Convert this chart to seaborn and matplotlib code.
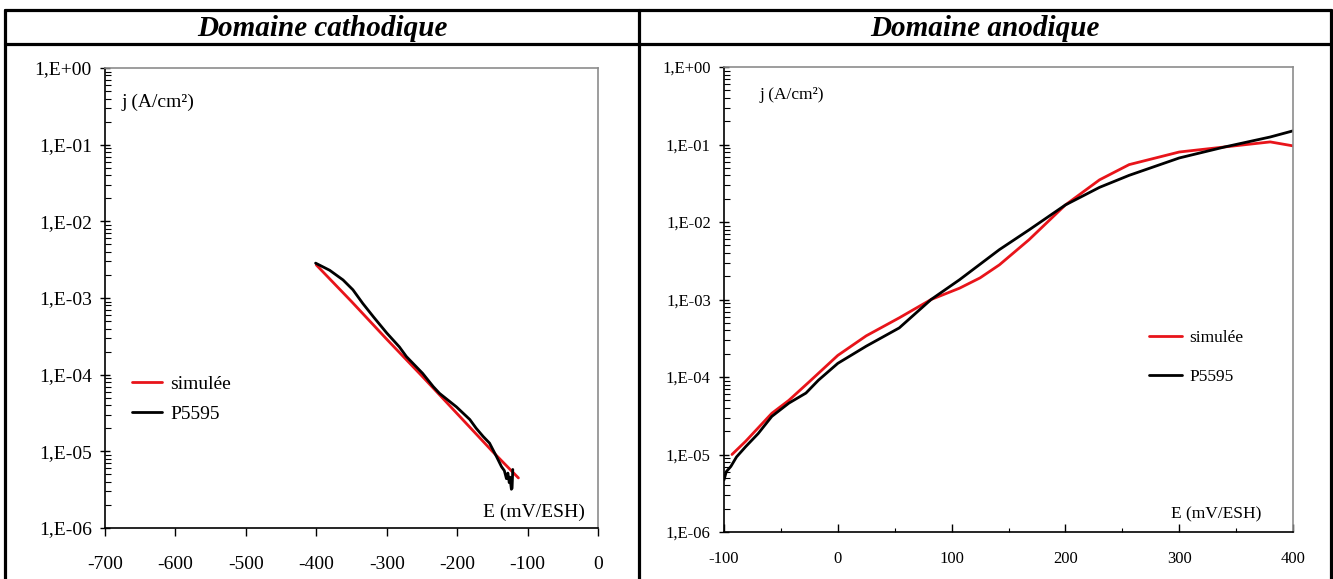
import numpy as np
import pandas as pd
import matplotlib
matplotlib.use("Agg")
import matplotlib.pyplot as plt
import seaborn as sns
from matplotlib.lines import Line2D
from matplotlib.ticker import LogLocator, FixedLocator, FixedFormatter, MultipleLocator, NullFormatter

# ---------------- data ----------------
titles = ["Domaine cathodique", "Domaine anodique"]
series_names = ["simulée", "P5595"]
ytick_values = [1e-6, 1e-5, 1e-4, 1e-3, 1e-2, 1e-1, 1e0]
ytick_labels = ["1,E-06", "1,E-05", "1,E-04", "1,E-03", "1,E-02", "1,E-01", "1,E+00"]

cath_sim_E = [-400, -350, -300, -250, -200, -150, -113]
cath_sim_j = [2.7e-3, 9.0e-4, 2.9e-4, 9.6e-5, 3.1e-5, 1.0e-5, 4.5e-6]

cath_exp_E = [-401, -381, -362, -348, -334, -319, -300, -282, -272, -249, -234, -225,
              -201, -182, -173, -163, -154, -144, -137, -133, -130, -128, -126, -125,
              -123, -122, -121]
cath_exp_j = [2.85e-3, 2.3e-3, 1.72e-3, 1.28e-3, 8.5e-4, 5.7e-4, 3.5e-4, 2.3e-4, 1.72e-4,
              1.04e-4, 7.0e-5, 5.7e-5, 3.8e-5, 2.6e-5, 2.0e-5, 1.56e-5, 1.28e-5, 8.5e-6,
              6.3e-6, 5.6e-6, 4.4e-6, 5.2e-6, 3.9e-6, 4.6e-6, 3.2e-6, 3.3e-6, 5.8e-6]

anod_sim_E = [-93, -81, -58, -43, -25, 0, 25, 54, 82, 107, 125, 142, 168, 200, 230, 256,
              300, 340, 380, 400]
anod_sim_j = [1.0e-5, 1.48e-5, 3.4e-5, 5.0e-5, 8.7e-5, 1.9e-4, 3.4e-4, 5.8e-4, 1.0e-3,
              1.4e-3, 1.9e-3, 2.8e-3, 5.9e-3, 1.66e-2, 3.5e-2, 5.5e-2, 8.0e-2, 9.3e-2,
              1.08e-1, 9.6e-2]

anod_exp_E = [-100, -98, -94, -89, -81, -70, -58, -43, -28, -17, 0, 25, 54, 82, 107, 142,
              168, 200, 230, 256, 300, 340, 380, 400]
anod_exp_j = [4.7e-6, 6.0e-6, 7.0e-6, 9.3e-6, 1.26e-5, 1.86e-5, 3.1e-5, 4.6e-5, 6.2e-5,
              9.1e-5, 1.5e-4, 2.5e-4, 4.3e-4, 1.0e-3, 1.8e-3, 4.4e-3, 7.9e-3, 1.66e-2,
              2.8e-2, 4.0e-2, 6.7e-2, 9.3e-2, 1.25e-1, 1.5e-1]

# ---------------- figure ----------------
sns.set_theme(style="white")
plt.rcParams["font.family"] = ["Liberation Serif", "DejaVu Serif"]
plt.rcParams["axes.unicode_minus"] = False
plt.rcParams["text.color"] = "black"
plt.rcParams["xtick.color"] = "black"
plt.rcParams["ytick.color"] = "black"
plt.rcParams["axes.labelcolor"] = "black"

W, H = 1333, 579
fig = plt.figure(figsize=(W / 100, H / 100), dpi=100)

def fx(px):
    return px / W

def fy(py):
    return 1 - py / H

# table lines
lw_tab = 2.3
for (x0, y0, x1, y1) in [(5, 10, 1331, 10), (5, 44, 1331, 44), (5, 10, 5, 579),
                         (1331, 10, 1331, 579), (639, 10, 639, 579)]:
    fig.add_artist(Line2D([fx(x0), fx(x1)], [fy(y0), fy(y1)], color="black", lw=lw_tab))

fig.text(fx(322), fy(28), titles[0], ha="center", va="center", fontsize=21,
         fontweight="bold", fontstyle="italic", color="black")
fig.text(fx(985), fy(28), titles[1], ha="center", va="center", fontsize=21,
         fontweight="bold", fontstyle="italic", color="black")

colors = {"simulée": "#e8141a", "P5595": "black"}

def make_df(E1, j1, E2, j2):
    return pd.concat([
        pd.DataFrame({"E": E1, "j": j1, "serie": series_names[0]}),
        pd.DataFrame({"E": E2, "j": j2, "serie": series_names[1]}),
    ], ignore_index=True)

def style_axes(ax, xlim, xmajor, xminor, xdir, fs):
    ax.set_yscale("log")
    ax.set_ylim(1e-6, 1)
    ax.set_xlim(*xlim)
    ax.yaxis.set_major_locator(FixedLocator(ytick_values))
    ax.yaxis.set_major_formatter(FixedFormatter(ytick_labels))
    ax.yaxis.set_minor_locator(LogLocator(base=10, subs=np.arange(2, 10), numticks=20))
    ax.yaxis.set_minor_formatter(NullFormatter())
    ax.xaxis.set_major_locator(MultipleLocator(xmajor))
    if xminor:
        ax.xaxis.set_minor_locator(MultipleLocator(xminor))
    ax.tick_params(axis="y", which="major", direction="inout", length=7, width=1,
                   color="black", labelcolor="black", labelsize=fs, pad=6, left=True)
    ax.tick_params(axis="y", which="minor", direction="in", length=4, width=0.8,
                   color="black", left=True)
    ax.tick_params(axis="x", which="major", direction=xdir, length=6, width=1,
                   color="black", labelcolor="black", labelsize=fs, pad=14, bottom=True)
    ax.tick_params(axis="x", which="minor", direction=xdir, length=3, width=0.8,
                   color="black", bottom=True)
    for s in ["left", "bottom"]:
        ax.spines[s].set_color("black")
        ax.spines[s].set_linewidth(1.2)
    for s in ["top", "right"]:
        ax.spines[s].set_color("#8c8c8c")
        ax.spines[s].set_linewidth(1.2)
    ax.set_xlabel("")
    ax.set_ylabel("")
    ax.grid(False)

h = [Line2D([], [], color=colors[n], lw=2) for n in series_names]

# left axes
fs1 = 14
ax1 = fig.add_axes([fx(105), fy(528), fx(598 - 105), (528 - 68) / H])
df1 = make_df(cath_sim_E, cath_sim_j, cath_exp_E, cath_exp_j)
sns.lineplot(data=df1, x="E", y="j", hue="serie", palette=colors, sort=False,
             estimator=None, units="serie", ax=ax1, linewidth=2.0, legend=False)
style_axes(ax1, (-700, 0), 100, None, "out", fs1)
ax1.text(0.034, 0.926, "j (A/cm²)", transform=ax1.transAxes, fontsize=fs1,
         ha="left", va="center")
ax1.text(0.974, 0.035, "E (mV/ESH)", transform=ax1.transAxes, fontsize=fs1,
         ha="right", va="center")
ax1.legend(h, series_names, loc="center left", bbox_to_anchor=(0.02, 0.28),
           frameon=False, fontsize=fs1, handlelength=1.55, handletextpad=0.4,
           labelspacing=0.65, labelcolor="black")

# right axes
fs2 = 12.5
ax2 = fig.add_axes([fx(724), fy(532), fx(1293 - 724), (532 - 67) / H])
df2 = make_df(anod_sim_E, anod_sim_j, anod_exp_E, anod_exp_j)
sns.lineplot(data=df2, x="E", y="j", hue="serie", palette=colors, sort=False,
             estimator=None, units="serie", ax=ax2, linewidth=2.0, legend=False)
style_axes(ax2, (-100, 400), 100, 50, "in", 12)
ax2.text(0.063, 0.94, "j (A/cm²)", transform=ax2.transAxes, fontsize=fs2,
         ha="left", va="center")
ax2.text(0.945, 0.037, "E (mV/ESH)", transform=ax2.transAxes, fontsize=fs2,
         ha="right", va="center")
ax2.legend(h, series_names, loc="center left", bbox_to_anchor=(0.72, 0.375),
           frameon=False, fontsize=fs2, handlelength=1.9, handletextpad=0.4,
           labelspacing=1.35, labelcolor="black")

fig.savefig("out.png", dpi=100)
